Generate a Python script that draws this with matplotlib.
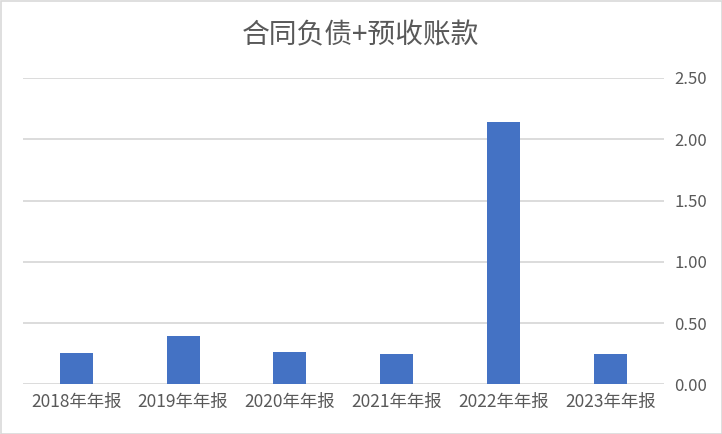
import matplotlib
matplotlib.use("Agg")
import matplotlib.pyplot as plt
from matplotlib.patches import Rectangle

categories = ["2018年年报", "2019年年报", "2020年年报", "2021年年报", "2022年年报", "2023年年报"]
values = [0.254, 0.392, 0.262, 0.246, 2.14, 0.246]
yticks = [0.0, 0.5, 1.0, 1.5, 2.0, 2.5]
title = "合同负债+预收账款"

plt.rcParams['font.family'] = ['Noto Sans CJK SC', 'DejaVu Sans']

fig = plt.figure(figsize=(7.22, 4.34), dpi=100)
ax = fig.add_axes([23/722, 1-384.3/434, (663.5-23)/722, (384.3-78)/434])

x = range(len(categories))
ax.bar(x, values, width=0.31, color="#4472C4", zorder=3)
ax.set_xlim(-0.5, len(categories)-0.5)
ax.set_ylim(0, 2.5)
ax.set_yticks(yticks)
ax.set_yticklabels([f"{v:.2f}" for v in yticks])
ax.set_xticks(list(x))
ax.set_xticklabels(categories)
ax.yaxis.tick_right()
ax.tick_params(axis='x', length=0, labelsize=12.5, colors="#595959", pad=6)
ax.tick_params(axis='y', length=0, labelsize=12, colors="#595959", pad=8)
for s in ax.spines.values():
    s.set_visible(False)
ax.grid(axis='y', color="#D9D9D9", linewidth=1.3, zorder=0)
ax.set_axisbelow(True)

fig.text(0.5, 1-35/434, title, ha='center', va='center', fontsize=20, color="#595959")
fig.patches.append(Rectangle((0.5/722, 0.5/434), 1-1/722, 1-1/434, transform=fig.transFigure,
                             fill=False, edgecolor="#D9D9D9", linewidth=1.2))
fig.savefig("out.png", dpi=100)
